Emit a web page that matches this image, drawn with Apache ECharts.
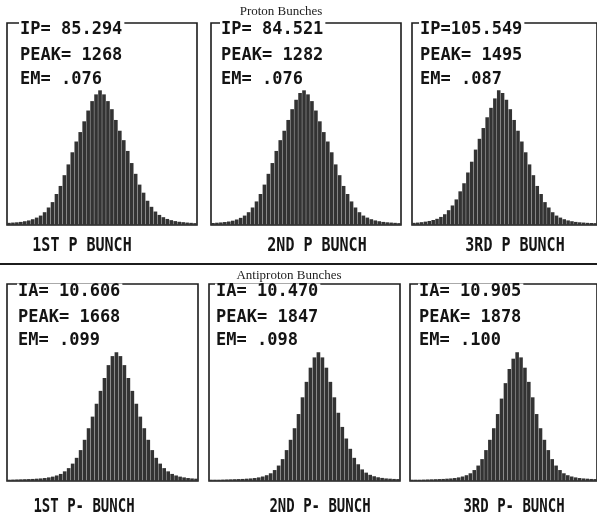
<!DOCTYPE html>
<html><head><meta charset="utf-8">
<script src="https://cdn.jsdelivr.net/npm/echarts@6/dist/echarts.min.js"></script>
<style>html,body{margin:0;padding:0;background:#fff}#c{width:597px;height:520px}</style>
</head><body><div id="c"></div>
<script>
// ---- data (bin heights as % of each bunch's peak) ----
const bins = Array.from({length: 48}, (_, i) => 'b' + (i + 1));

const p1 = [1.6,1.8,2.0,2.3,2.8,3.4,4.3,5.5,7,9.5,13,17,23,29,37,45,54,62,69,77,85,92,97,100,
            97,92,86,78,70,63,55,46,38,30,24,18,13.5,10,7.5,5.8,4.5,3.6,2.9,2.4,2.1,1.8,1.6,1.4];
const p2 = [1.5,1.7,1.9,2.2,2.6,3.2,4.1,5.3,7,9.5,13,17.5,23,30,38,46,55,63,70,78,86,93,98,100,
            97,92,85,77,69,62,54,45,37,29,23,17.5,13,9.5,7,5.5,4.3,3.4,2.8,2.3,2.0,1.8,1.6,1.4];
const p3 = [1.6,1.8,2.1,2.5,3.0,3.7,4.6,6,8,11,14.5,19,25,31,39,47,56,64,72,80,87,94,100,
            98,93,86,78,70,62,54,45,37,29,23,17,13,9.5,7,5.5,4.3,3.4,2.8,2.3,2.0,1.8,1.6,1.5,1.4];
const p4 = [1.0,1.1,1.2,1.3,1.4,1.5,1.6,1.8,2.0,2.3,2.8,3.4,4.3,5.5,7.5,10,13.5,18,24,32,41,50,60,70,80,90,97,100,
            97,90,80,70,60,50,41,32,24,18,13.5,10,7.5,5.5,4.3,3.4,2.8,2.3,2.0,1.8];
const p5 = [1.0,1.0,1.0,1.1,1.2,1.3,1.4,1.5,1.6,1.8,2.0,2.3,2.8,3.5,4.5,6,8.5,12,17,24,32,41,52,65,77,88,96,100,
            96,88,77,65,53,42,33,25,18,13,9,6.5,4.8,3.7,2.9,2.4,2.0,1.8,1.6,1.5];
const p6 = [1.0,1.0,1.0,1.1,1.2,1.3,1.4,1.5,1.6,1.8,2.0,2.3,2.8,3.5,4.5,6,8.5,12,17,24,32,41,52,64,76,87,95,100,
            96,88,77,65,52,41,32,24,17,12,8.5,6,4.5,3.5,2.8,2.3,2.0,1.8,1.6,1.5];

const sectionTitles = ['Proton Bunches', 'Antiproton Bunches'];
const bunchNames = ['1ST P BUNCH','2ND P BUNCH','3RD P BUNCH','1ST P- BUNCH','2ND P- BUNCH','3RD P- BUNCH'];
const intensityText = ['IP= 85.294','IP= 84.521','IP=105.549','IA= 10.606','IA= 10.470','IA= 10.905'];
const peakText = ['PEAK= 1268','PEAK= 1282','PEAK= 1495','PEAK= 1668','PEAK= 1847','PEAK= 1878'];
const emText = ['EM= .076','EM= .076','EM= .087','EM= .099','EM= .098','EM= .100'];
const seriesData = [p1, p2, p3, p4, p5, p6];

// ---- layout ----
const boxes = [
  {left: 7,   top: 23,  width: 190, height: 202, ymax: 150},
  {left: 211, top: 23,  width: 190, height: 202, ymax: 150},
  {left: 412, top: 23,  width: 190, height: 202, ymax: 150},
  {left: 7,   top: 284, width: 191, height: 197, ymax: 153},
  {left: 209, top: 284, width: 191, height: 197, ymax: 153},
  {left: 410, top: 284, width: 191, height: 197, ymax: 153}
];
const textX = [19, 220, 419, 17, 215, 418];
const textRowsY = [[30, 56, 80], [292, 318, 341]];
const labelPos = [[82, 246], [317, 246], [515, 246], [84, 507], [320, 507], [514, 507]];

const grid = [], xAxis = [], yAxis = [], series = [], graphic = [];
boxes.forEach((b, i) => {
  grid.push({left: b.left, top: b.top, width: b.width, height: b.height, show: true,
             borderColor: '#1c1c1c', borderWidth: 1.6, backgroundColor: 'transparent'});
  xAxis.push({type: 'category', gridIndex: i, data: bins, show: false, boundaryGap: true});
  yAxis.push({type: 'value', gridIndex: i, min: 0, max: b.ymax, show: false});
  series.push({type: 'bar', xAxisIndex: i, yAxisIndex: i, data: seriesData[i],
               barCategoryGap: '8%', itemStyle: {color: '#333333'}, silent: true});
  const rows = textRowsY[i < 3 ? 0 : 1];
  [intensityText[i], peakText[i], emText[i]].forEach((t, r) => {
    graphic.push({type: 'text', x: textX[i], y: rows[r], z: 10,
      style: {text: t, font: 'bold 17px "DejaVu Sans Mono"', fill: '#141414',
              verticalAlign: 'middle', align: 'left',
              backgroundColor: r === 0 ? '#fff' : 'transparent', padding: [0, 2, 0, 1]}});
  });
  graphic.push({type: 'text', x: labelPos[i][0], y: labelPos[i][1], scaleY: 1.35, z: 10,
    style: {text: bunchNames[i], x: 0, y: 0, align: 'center', verticalAlign: 'middle',
            font: (i < 3 ? 'bold 15px' : 'bold 14px') + ' "DejaVu Sans Mono"', fill: '#141414'}});
});
graphic.push({type: 'line', shape: {x1: 0, y1: 264, x2: 597, y2: 264},
              style: {stroke: '#1c1c1c', lineWidth: 2}});
graphic.push({type: 'text', x: 281, y: 12, style: {text: sectionTitles[0], align: 'center',
              verticalAlign: 'middle', font: '13px "Liberation Serif"', fill: '#222'}});
graphic.push({type: 'text', x: 289, y: 276, style: {text: sectionTitles[1], align: 'center',
              verticalAlign: 'middle', font: '13px "Liberation Serif"', fill: '#222'}});

const chart = echarts.init(document.getElementById('c'), null, {renderer: 'canvas'});
chart.setOption({animation: false, backgroundColor: '#fff', grid, xAxis, yAxis, series, graphic});
</script></body></html>
